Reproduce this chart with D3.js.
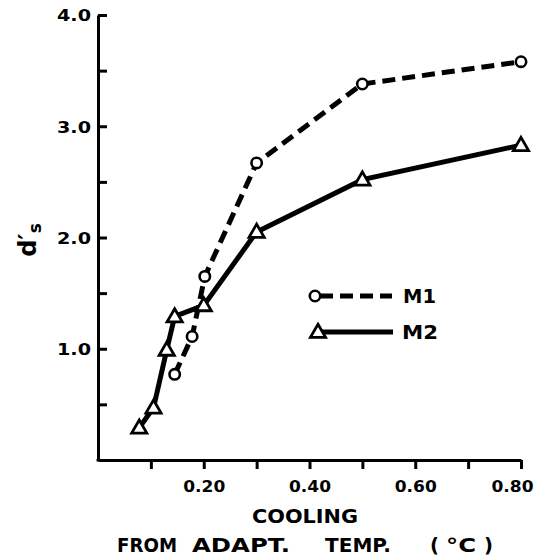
<!DOCTYPE html>
<html><head><meta charset="utf-8">
<script src="https://cdn.jsdelivr.net/npm/d3@7/dist/d3.min.js"></script>
<style>body{margin:0;background:#fff}svg{display:block}text{font-family:"DejaVu Sans",sans-serif;font-weight:bold;fill:#000}</style>
</head><body><svg id="c" width="538" height="560"></svg>
<script>
const m1X = [0.145, 0.178, 0.202, 0.30, 0.50, 0.80];
const m1Y = [0.77, 1.11, 1.65, 2.67, 3.38, 3.58];
const m2X = [0.078, 0.105, 0.13, 0.145, 0.20, 0.30, 0.50, 0.80];
const m2Y = [0.29, 0.47, 0.99, 1.29, 1.39, 2.05, 2.52, 2.83];
const xTickVals = [0.1,0.2,0.3,0.4,0.5,0.6,0.7,0.8];
const xTickLabels = ["", "0.20", "", "0.40", "", "0.60", "", "0.80"];
const yTickVals = [0.5,1,1.5,2,2.5,3,3.5,4];
const yTickLabels = ["", "1.0", "", "2.0", "", "3.0", "", "4.0"];
const seriesNames = ["M1", "M2"];
const xTitle1 = "COOLING";
const xTitle2 = ["FROM", "ADAPT.", "TEMP.", "(", "°C", ")"];

const svg = d3.select("#c");
const x = d3.scaleLinear().domain([0, 0.8]).range([98, 521]);
const y = d3.scaleLinear().domain([0, 4]).range([460, 15]);

const xa = svg.append("g").attr("transform", `translate(0,${y(0)})`)
  .call(d3.axisBottom(x).tickValues(xTickVals).tickFormat((d,i)=>xTickLabels[i]).tickSize(9).tickPadding(12).tickSizeOuter(0));
const ya = svg.append("g").attr("transform", `translate(${x(0)},0)`)
  .call(d3.axisLeft(y).tickValues(yTickVals).tickFormat((d,i)=>yTickLabels[i]).tickSize(-9).tickPadding(10).tickSizeOuter(0));
[xa, ya].forEach(g => {
  g.select(".domain").attr("stroke", "#000").attr("stroke-width", 3);
  g.selectAll(".tick line").attr("stroke", "#000").attr("stroke-width", 3);
  g.selectAll(".tick text").style("font-size", "16px").style("font-family", '"DejaVu Sans",sans-serif').style("font-weight", "bold")
    .filter(function(){return this.textContent!=="";}).attr("textLength", 34).attr("lengthAdjust","spacingAndGlyphs");
});
xa.selectAll(".tick text").filter(function(){return this.textContent!=="";}).attr("textLength", 42);
xa.selectAll(".tick text").filter(function(){return this.textContent==="0.80";}).attr("dx", -9);
ya.selectAll(".tick text").attr("x", -7).attr("dy", "0.36em");
svg.append("line").attr("x1", x(0)).attr("x2", x(0)).attr("y1", y(0)+1.5).attr("y2", y(0)-1).attr("stroke","#000").attr("stroke-width",3);

const line = d3.line().x(d=>x(d[0])).y(d=>y(d[1]));
const m1 = m1X.map((v,i)=>[v, m1Y[i]]);
const m2 = m2X.map((v,i)=>[v, m2Y[i]]);

svg.append("path").attr("d", line(m1)).attr("fill","none").attr("stroke","#000")
  .attr("stroke-width",5).attr("stroke-dasharray","13,7");
svg.append("path").attr("d", line(m2)).attr("fill","none").attr("stroke","#000")
  .attr("stroke-width",5);

const tri = d3.symbol().type(d3.symbolTriangle).size(100);
svg.selectAll(".m2").data(m2).enter().append("path")
  .attr("d", tri).attr("transform", d=>`translate(${x(d[0])},${y(d[1])+1})`)
  .attr("fill","#fff").attr("stroke","#000").attr("stroke-width",2.8);
svg.selectAll(".m1").data(m1).enter().append("circle")
  .attr("cx", d=>x(d[0])).attr("cy", d=>y(d[1])).attr("r",5.2)
  .attr("fill","#fff").attr("stroke","#000").attr("stroke-width",2.6);

// legend
const lg = svg.append("g");
lg.append("line").attr("x1",316).attr("x2",392).attr("y1",296).attr("y2",296).attr("stroke","#000").attr("stroke-width",5).attr("stroke-dasharray","13,7").attr("stroke-dashoffset",-4);
lg.append("circle").attr("cx",315).attr("cy",296).attr("r",5.2).attr("fill","#fff").attr("stroke","#000").attr("stroke-width",2.6);
lg.append("text").attr("x",403).attr("y",303).style("font-size","19px").attr("textLength",33).attr("lengthAdjust","spacingAndGlyphs").text(seriesNames[0]);
lg.append("line").attr("x1",318).attr("x2",393).attr("y1",332).attr("y2",332).attr("stroke","#000").attr("stroke-width",5);
lg.append("path").attr("d", tri).attr("transform","translate(318,333)").attr("fill","#fff").attr("stroke","#000").attr("stroke-width",2.8);
lg.append("text").attr("x",402).attr("y",339).style("font-size","19px").attr("textLength",36).attr("lengthAdjust","spacingAndGlyphs").text(seriesNames[1]);

// axis titles
svg.append("text").attr("x",252).attr("y",523).style("font-size","19px")
  .attr("textLength",106).attr("lengthAdjust","spacingAndGlyphs").text(xTitle1);
const t2x = [117, 192, 325, 430, 446, 484];
const t2w = [60, 98, 66, 9, 30, 9];
svg.selectAll(".t2").data(xTitle2).enter().append("text")
  .attr("x",(d,i)=>t2x[i]).attr("y",552).style("font-size","19px")
  .attr("textLength",(d,i)=>t2w[i]).attr("lengthAdjust","spacingAndGlyphs").text(d=>d);

const yl = svg.append("text").attr("transform","translate(36,240) rotate(-90)").attr("text-anchor","middle").style("font-size","24px");
yl.append("tspan").text("d′");
yl.append("tspan").attr("dy",5).style("font-size","17px").text("s");
</script></body></html>
